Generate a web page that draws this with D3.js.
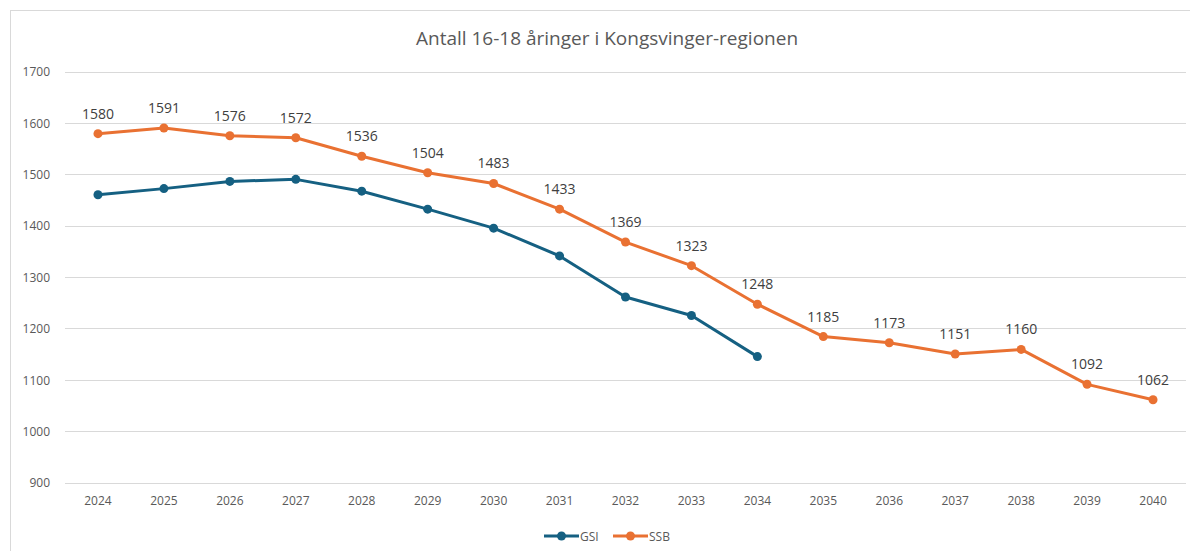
<!DOCTYPE html>
<html lang="no">
<head>
<meta charset="UTF-8">
<title>Antall 16-18 åringer</title>
<style>
body { margin: 0; background: #fff; }
.grid line { stroke: #d9d9d9; stroke-width: 1; shape-rendering: crispEdges; }
.axis text { font-family: "Open Sans", sans-serif; font-size: 12px; fill: #595959; }
</style>
</head>
<body>
<div id="chart"></div>
<script src="https://d3js.org/d3.v7.min.js"></script>
<script>
var years = ["2024", "2025", "2026", "2027", "2028", "2029", "2030", "2031", "2032", "2033", "2034", "2035", "2036", "2037", "2038", "2039", "2040"];
var gsi = [1461, 1473, 1487, 1491, 1468, 1433, 1396, 1342, 1262, 1226, 1146];
var ssb = [1580, 1591, 1576, 1572, 1536, 1504, 1483, 1433, 1369, 1323, 1248, 1185, 1173, 1151, 1160, 1092, 1062];
var yTicks = [900, 1000, 1100, 1200, 1300, 1400, 1500, 1600, 1700];
var seriesNames = ["GSI", "SSB"];
var colors = ["#156082", "#E97132"];

var width = 1190, height = 551;
var padding = { left: 65, right: 4, top: 72, bottom: 68 };

var svg = d3.select('#chart').append('svg').attr('width', width).attr('height', height);

// ramme
svg.append('rect')
    .attr('x', 10.5).attr('y', 10.5)
    .attr('width', width + 20).attr('height', height + 20)
    .attr('fill', 'none').attr('stroke', '#d9d9d9');

var xScale = d3.scaleBand()
    .domain(years)
    .range([padding.left, width - padding.right]);
var yScale = d3.scaleLinear()
    .domain([900, 1700])
    .range([height - padding.bottom, padding.top]);

// tittel
svg.append('text')
    .attr('x', 607).attr('y', 45)
    .attr('text-anchor', 'middle')
    .attr('font-family', '"Open Sans", sans-serif')
    .attr('font-size', 19)
    .attr('fill', '#595959')
    .text('Antall 16-18 åringer i Kongsvinger-regionen');

// rutenett
svg.append('g')
    .attr('class', 'grid')
    .selectAll('line')
    .data(yTicks)
    .enter()
    .append('line')
    .attr('x1', padding.left).attr('x2', width - padding.right)
    .attr('y1', function(d) { return yScale(d); })
    .attr('y2', function(d) { return yScale(d); });

// akser
var yAxis = svg.append('g')
    .attr('class', 'axis')
    .attr('transform', 'translate(' + (padding.left - 12) + ',0)')
    .call(d3.axisLeft(yScale).tickValues(yTicks).tickSize(0).tickFormat(d3.format('d')));
yAxis.select('.domain').remove();

var xAxis = svg.append('g')
    .attr('class', 'axis')
    .attr('transform', 'translate(0,' + (height - padding.bottom + 10) + ')')
    .call(d3.axisBottom(xScale).tickSize(0));
xAxis.select('.domain').remove();

var line = d3.line()
    .x(function(d, i) { return xScale(years[i]) + xScale.bandwidth() / 2; })
    .y(function(d) { return yScale(d); });

[gsi, ssb].forEach(function(data, k) {
    var g = svg.append('g').attr('class', 'series');
    g.append('path')
        .attr('d', line(data))
        .attr('fill', 'none')
        .attr('stroke', colors[k])
        .attr('stroke-width', 3)
        .attr('stroke-linejoin', 'round');
    g.selectAll('circle')
        .data(data)
        .enter()
        .append('circle')
        .attr('cx', function(d, i) { return xScale(years[i]) + xScale.bandwidth() / 2; })
        .attr('cy', function(d) { return yScale(d); })
        .attr('r', 4.5)
        .attr('fill', colors[k]);
});

// dataetiketter SSB
svg.append('g')
    .selectAll('text')
    .data(ssb)
    .enter()
    .append('text')
    .attr('x', function(d, i) { return xScale(years[i]) + xScale.bandwidth() / 2; })
    .attr('y', function(d) { return yScale(d) - 15; })
    .attr('text-anchor', 'middle')
    .attr('font-family', '"Open Sans", sans-serif')
    .attr('font-size', 14)
    .attr('fill', '#404040')
    .text(function(d) { return d; });

// forklaring
var legend = svg.append('g').attr('class', 'legend');
var legendX = [544, 613];
seriesNames.forEach(function(name, k) {
    var lg = legend.append('g').attr('transform', 'translate(' + legendX[k] + ',536)');
    lg.append('line').attr('x1', 0).attr('x2', 35).attr('y1', 0).attr('y2', 0)
        .attr('stroke', colors[k]).attr('stroke-width', 3);
    lg.append('circle').attr('cx', 17.5).attr('cy', 0).attr('r', 4.5).attr('fill', colors[k]);
    lg.append('text').attr('x', 36).attr('y', 4.5)
        .attr('font-family', '"Open Sans", sans-serif')
        .attr('font-size', 12).attr('fill', '#595959')
        .text(name);
});
</script>
</body>
</html>
